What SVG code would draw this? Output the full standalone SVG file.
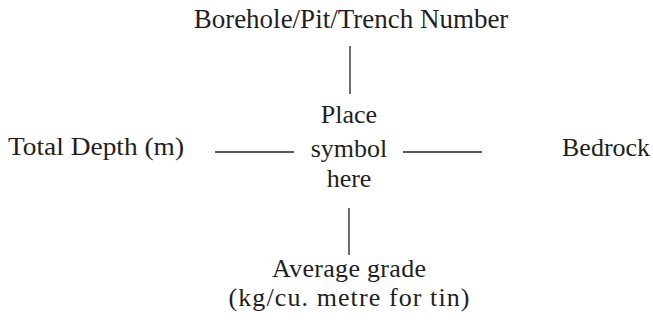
<svg xmlns="http://www.w3.org/2000/svg" width="653" height="322" viewBox="0 0 653 322">
<style>
text{font-family:"Liberation Serif","Times New Roman",serif;font-size:26px;fill:#231f20}
.c{text-anchor:middle}
.ln{stroke:#231f20;stroke-width:1.3;fill:none}
</style>
<rect width="653" height="322" fill="#fff"/>
<g id="top"><text class="c" x="351" y="28" style="font-size:27px">Borehole/Pit/Trench Number</text></g>
<g id="center"><text class="c" x="349" y="123">Place</text><text class="c" x="349" y="157">symbol</text><text class="c" x="349" y="187">here</text></g>
<g id="left"><text x="8" y="155" textLength="176" lengthAdjust="spacingAndGlyphs">Total Depth (m)</text></g>
<g id="right"><text x="562" y="156">Bedrock</text></g>
<g id="bottom"><text class="c" x="349" y="277" textLength="154">Average grade</text><text class="c" x="349" y="306" textLength="241">(kg/cu. metre for tin)</text></g>
<g id="connectors">
<line class="ln" x1="350" y1="46" x2="350" y2="94"/>
<line class="ln" x1="349" y1="208" x2="349" y2="255"/>
<line class="ln" x1="215" y1="152" x2="294" y2="152"/>
<line class="ln" x1="403" y1="152" x2="482" y2="152"/>
</g>
</svg>
